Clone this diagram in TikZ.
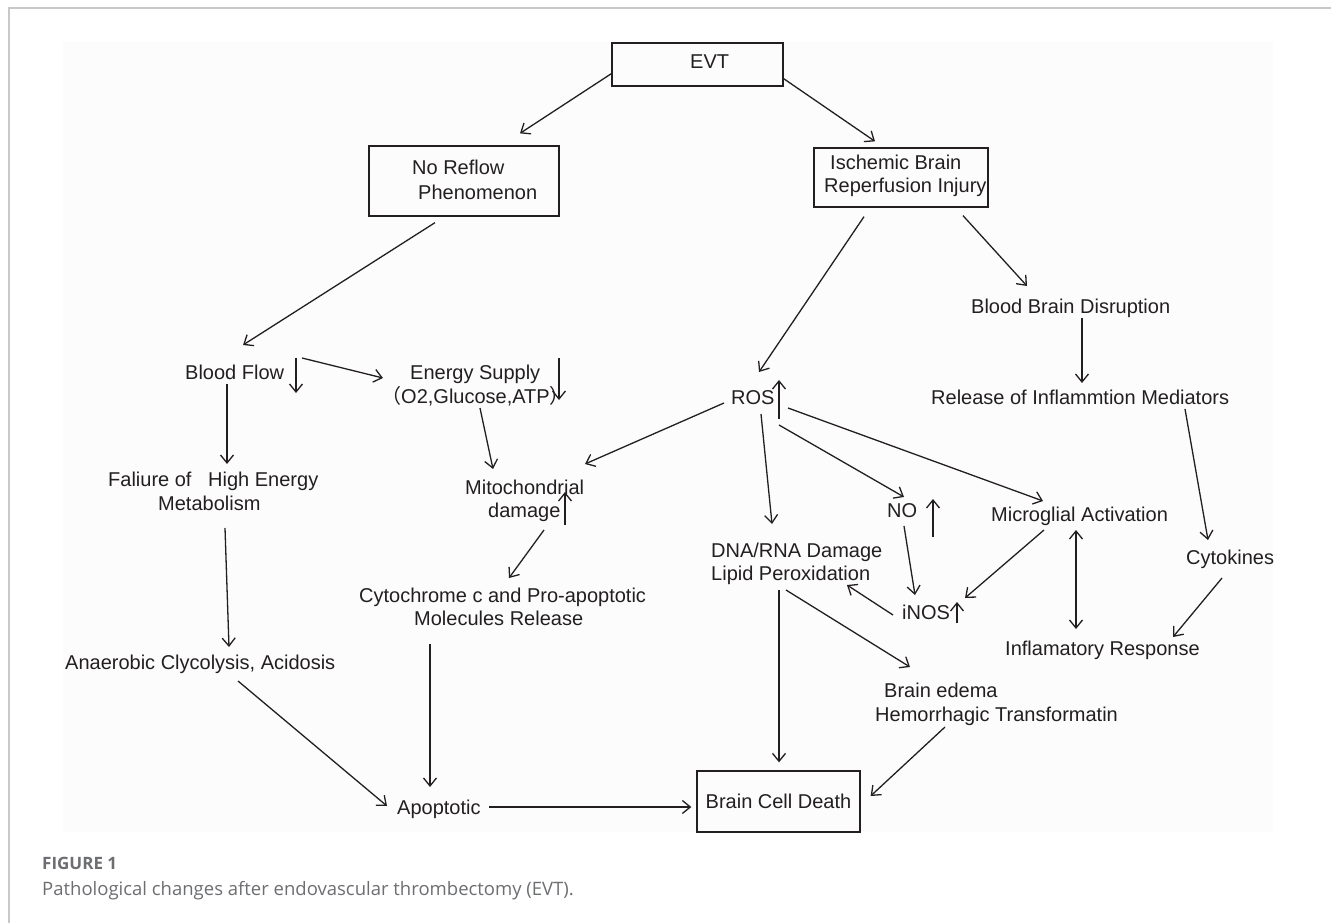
\documentclass[tikz,border=0pt]{standalone}
\usepackage{fontspec}
\setmainfont{Liberation Sans}
\newfontfamily\cjk{Noto Sans CJK SC}
\newfontfamily\capfont{Open Sans}
\usetikzlibrary{arrows.meta,calc}
\definecolor{ink}{HTML}{231F20}
\definecolor{capgray}{HTML}{6D6E71}
\definecolor{framegray}{HTML}{C8C8C8}
\definecolor{bggray}{HTML}{FCFCFC}
\begin{document}
\begin{tikzpicture}[x=1pt,y=-1pt,
  txt/.style={font=\fontsize{20}{24}\selectfont, text=ink, inner sep=0pt, anchor=base west},
  boxnode/.style={draw=ink, line width=1.3pt, inner sep=0pt},
  arr/.style={draw=ink, line width=1.3pt, -{Straight Barb[length=8pt,width=13pt]}},
  dblarr/.style={draw=ink, line width=1.3pt, {Straight Barb[length=8pt,width=13pt]}-{Straight Barb[length=8pt,width=13pt]}},
  captext/.style={text=capgray, inner sep=0pt, anchor=base west}
]
\useasboundingbox (0,0) rectangle (1331,923);
% frame and background
\fill[white] (0,0) rectangle (1331,923);
\fill[bggray] (63,42) rectangle (1273,832);
\draw[framegray, line width=2pt] (8,8) -- (1331,8);
\draw[framegray, line width=1.5pt] (9,8) -- (9,923);

% boxes
\node[boxnode, minimum width=171pt, minimum height=43pt] (evt) at (697.5,64.5) {};
\node[txt] (evtT) at (690,69) {EVT};
\node[boxnode, minimum width=190pt, minimum height=70pt] (nr) at (464,181) {};
\node[txt] (nr1) at (412,175) {No Reflow};
\node[txt] (nr2) at (418,200) {Phenomenon};
\node[boxnode, minimum width=174pt, minimum height=59pt] (ib) at (901,177.5) {};
\node[txt] (ib1) at (830,169) {Ischemic Brain};
\node[txt] (ib2) at (824,193) {Reperfusion Injury};
\node[boxnode, minimum width=163pt, minimum height=61pt, font=\fontsize{20}{24}\selectfont, text=ink] (bcd) at (778.5,801.5) {Brain Cell Death};

% text nodes
\node[txt] (bf) at (185,379) {Blood Flow};
\node[txt] (es1) at (410,379) {Energy Supply};
\node[txt] (es2) at (381,403) {{\cjk （}O2,Glucose,ATP{\cjk ）}};
\node[txt] (mi1) at (465,494) {Mitochondrial};
\node[txt] (mi2) at (488,517) {damage};
\node[txt] (cy1) at (359,602) {Cytochrome c and Pro-apoptotic};
\node[txt] (cy2) at (414,625) {Molecules Release};
\node[txt] (apo) at (397,814) {Apoptotic};
\node[txt] (fa1) at (108,486) {Faliure of \ \ High Energy};
\node[txt] (fa2) at (158,510) {Metabolism};
\node[txt] (ana) at (65,669) {Anaerobic Clycolysis, Acidosis};
\node[txt] (ros) at (731,404) {ROS};
\node[txt] (dna) at (711,557) {DNA/RNA Damage};
\node[txt] (lip) at (711,580) {Lipid Peroxidation};
\node[txt] (no) at (887,517) {NO};
\node[txt] (inos) at (902,619) {iNOS};
\node[txt] (mg) at (991,521) {Microglial Activation};
\node[txt] (ir) at (1005,655) {Inflamatory Response};
\node[txt] (cyt) at (1186,564) {Cytokines};
\node[txt] (rel) at (931,404) {Release of Inflammtion Mediators};
\node[txt] (bbd) at (971,313) {Blood Brain Disruption};
\node[txt] (ed1) at (884,697) {Brain edema};
\node[txt] (ed2) at (875,721) {Hemorrhagic Transformatin};

% connectors
\draw[arr] ($(evt.south west)+(0,-13)$) -- ($(nr.north)+(56,-12)$);
\draw[arr] ($(evt.south east)+(0,-8)$) -- ($(ib.north)+(-26,-6)$);
\draw[arr] ($(nr.south)+(-29,6)$) -- ($(bf.base west)+(58,-34)$);
\draw[arr] ($(ib.south)+(-37,9)$) -- ($(ros.base west)+(28,-32)$);
\draw[arr] ($(ib.south)+(62,8)$) -- ($(bbd.base west)+(56,-27)$);
\draw[arr] ($(bbd.base west)+(111,5)$) -- ($(rel.base west)+(151,-21)$);
\draw[arr] ($(rel.base west)+(254,5)$) -- ($(cyt.base west)+(22,-24)$);
\draw[arr] ($(cyt.base west)+(36,14)$) -- ($(ir.base west)+(168,-18)$);
\draw[dblarr] ($(mg.base west)+(85,9)$) -- ($(ir.base west)+(71,-26)$);
\draw[arr] ($(mg.base west)+(53,9)$) -- ($(inos.base west)+(63,-21)$);
\draw[arr] ($(ros.base west)+(-7,-1)$) -- ($(mi1.base west)+(120,-30)$);
\draw[arr] ($(ros.base west)+(30,10)$) -- ($(dna.base west)+(61,-33)$);
\draw[arr] ($(ros.base west)+(48,21)$) -- ($(no.base west)+(17,-20)$);
\draw[arr] ($(ros.base west)+(57,4)$) -- ($(mg.base west)+(52,-20)$);
\draw[arr] ($(no.base west)+(17,9)$) -- ($(inos.base west)+(13,-24)$);
\draw[arr] ($(inos.base west)+(-9,-4)$) -- ($(lip.base west)+(136,5)$);
\draw[arr] ($(lip.base west)+(68,10)$) -- ($(bcd.north)+(0.5,-8)$);
\draw[arr] ($(lip.base west)+(75,10)$) -- ($(ed1.base west)+(26,-30)$);
\draw[arr] ($(ed2.base west)+(70,6)$) -- ($(bcd.east)+(10,-5.5)$);
\draw[arr] ($(apo.base west)+(92,-7)$) -- ($(bcd.west)+(-5,5.5)$);
\draw[arr] ($(ana.base west)+(173,12)$) -- ($(apo.base west)+(-10,-8)$);
\draw[arr] ($(cy2.base west)+(16,19)$) -- ($(apo.base west)+(33,-27)$);
\draw[arr] ($(mi2.base west)+(56,13)$) -- ($(cy1.base west)+(150,-24)$);
\draw[arr] ($(es2.base west)+(99,5)$) -- ($(mi1.base west)+(28,-25)$);
\draw[arr] ($(bf.base west)+(117,-21)$) -- ($(es1.base west)+(-27,-1)$);
\draw[arr] ($(bf.base west)+(42,5)$) -- ($(fa1.base west)+(119,-22)$);
\draw[arr] ($(fa2.base west)+(67,18)$) -- ($(ana.base west)+(164,-22)$);

% up / down indicators
\draw[arr] ($(bf.base west)+(111,-21)$) -- ($(bf.base west)+(111,14)$);
\draw[arr] ($(es1.base west)+(149,-21)$) -- ($(es1.base west)+(149,21)$);
\draw[arr] ($(mi2.base west)+(77,8)$) -- ($(mi2.base west)+(77,-25)$);
\draw[arr] ($(ros.base west)+(48,15)$) -- ($(ros.base west)+(48,-24)$);
\draw[arr] ($(no.base west)+(46,20)$) -- ($(no.base west)+(46,-18)$);
\draw[arr] ($(inos.base west)+(55,4)$) -- ($(inos.base west)+(55,-17)$);

% caption
\node[captext, font=\capfont\bfseries\fontsize{17}{20}\selectfont] (figlabel) at (42,869) {FIGURE 1};
\node[captext, font=\capfont\fontsize{18.5}{22}\selectfont] (caption) at (42,895) {Pathological changes after endovascular thrombectomy (EVT).};
\end{tikzpicture}
\end{document}
